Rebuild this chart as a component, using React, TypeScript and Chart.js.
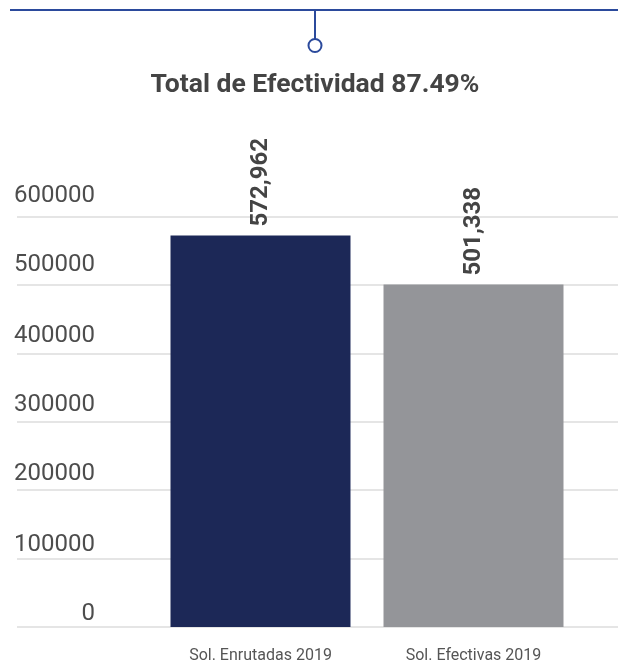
import React, { useEffect, useRef } from "react";
import { Chart, registerables } from "chart.js";

Chart.register(...registerables);

const categories = ["Sol. Enrutadas 2019", "Sol. Efectivas 2019"];
const values = [572962, 501338];
const valueLabels = ["572,962", "501,338"];
const barColors = ["#1c2857", "#949599"];
const yTicks = [0, 100000, 200000, 300000, 400000, 500000, 600000];
const titleText = "Total de Efectividad 87.49%";

export default function App() {
  const ref = useRef<HTMLCanvasElement>(null);

  useEffect(() => {
    if (!ref.current) return;

    const decor = {
      id: "decor",
      afterDraw(chart: any) {
        const ctx = chart.ctx;
        ctx.save();
        ctx.strokeStyle = "#2b4a9c";
        ctx.lineWidth = 2;
        ctx.beginPath();
        ctx.moveTo(10, 10);
        ctx.lineTo(618, 10);
        ctx.moveTo(315, 10);
        ctx.lineTo(315, 39);
        ctx.stroke();
        ctx.beginPath();
        ctx.arc(315, 45.5, 6.5, 0, Math.PI * 2);
        ctx.fillStyle = "#ffffff";
        ctx.fill();
        ctx.stroke();
        ctx.fillStyle = "#444444";
        ctx.font = "bold 26.5px Roboto";
        ctx.textAlign = "center";
        ctx.textBaseline = "alphabetic";
        ctx.fillText(titleText, 315, 92);
        ctx.restore();
      },
    };

    const gridLabels = {
      id: "gridLabels",
      beforeDatasetsDraw(chart: any) {
        const ctx = chart.ctx;
        const y = chart.scales.y;
        ctx.save();
        ctx.strokeStyle = "#dcdcdc";
        ctx.lineWidth = 1.5;
        ctx.fillStyle = "#4d4d4d";
        ctx.font = "24px Roboto";
        ctx.textAlign = "right";
        ctx.textBaseline = "alphabetic";
        yTicks.forEach((v) => {
          const py = Math.round(y.getPixelForValue(v));
          ctx.beginPath();
          ctx.moveTo(17, py);
          ctx.lineTo(618, py);
          ctx.stroke();
          const gap = 7 + (v / 600000) * 8;
          ctx.fillText(String(v), 95, py - gap);
        });
        ctx.restore();
      },
    };

    const valuePlugin = {
      id: "valueLabels",
      afterDatasetsDraw(chart: any) {
        const ctx = chart.ctx;
        const meta = chart.getDatasetMeta(0);
        ctx.save();
        ctx.fillStyle = "#444444";
        ctx.font = "bold 24px Roboto";
        ctx.textAlign = "left";
        ctx.textBaseline = "middle";
        meta.data.forEach((bar: any, i: number) => {
          ctx.save();
          ctx.translate(bar.x, bar.y - 9);
          ctx.rotate(-Math.PI / 2);
          ctx.fillText(valueLabels[i], 0, 0);
          ctx.restore();
        });
        ctx.restore();
      },
    };

    const chart = new Chart(ref.current, {
      type: "bar",
      data: {
        labels: categories,
        datasets: [
          {
            data: values,
            backgroundColor: barColors,
            borderWidth: 0,
            categoryPercentage: 1,
            barPercentage: 0.845,
          },
        ],
      },
      options: {
        animation: false,
        responsive: true,
        maintainAspectRatio: false,
        layout: { padding: { left: 154, right: 38, top: 217, bottom: 0 } },
        plugins: {
          legend: { display: false },
          tooltip: { enabled: false },
          title: { display: false },
        },
        scales: {
          x: {
            grid: { display: false },
            border: { display: false },
            ticks: {
              color: "#555555",
              font: { family: "Roboto", size: 16 },
              padding: 11,
            },
            afterFit(scale: any) {
              scale.height = 33;
            },
          },
          y: {
            display: false,
            min: 0,
            max: 600000,
            ticks: { stepSize: 100000 },
          },
        },
      },
      plugins: [gridLabels, valuePlugin, decor],
    });

    return () => chart.destroy();
  }, []);

  return (
    <div style={{ position: "absolute", left: 0, top: 0, width: 618, height: 660, background: "#ffffff" }}>
      <canvas ref={ref} />
    </div>
  );
}
